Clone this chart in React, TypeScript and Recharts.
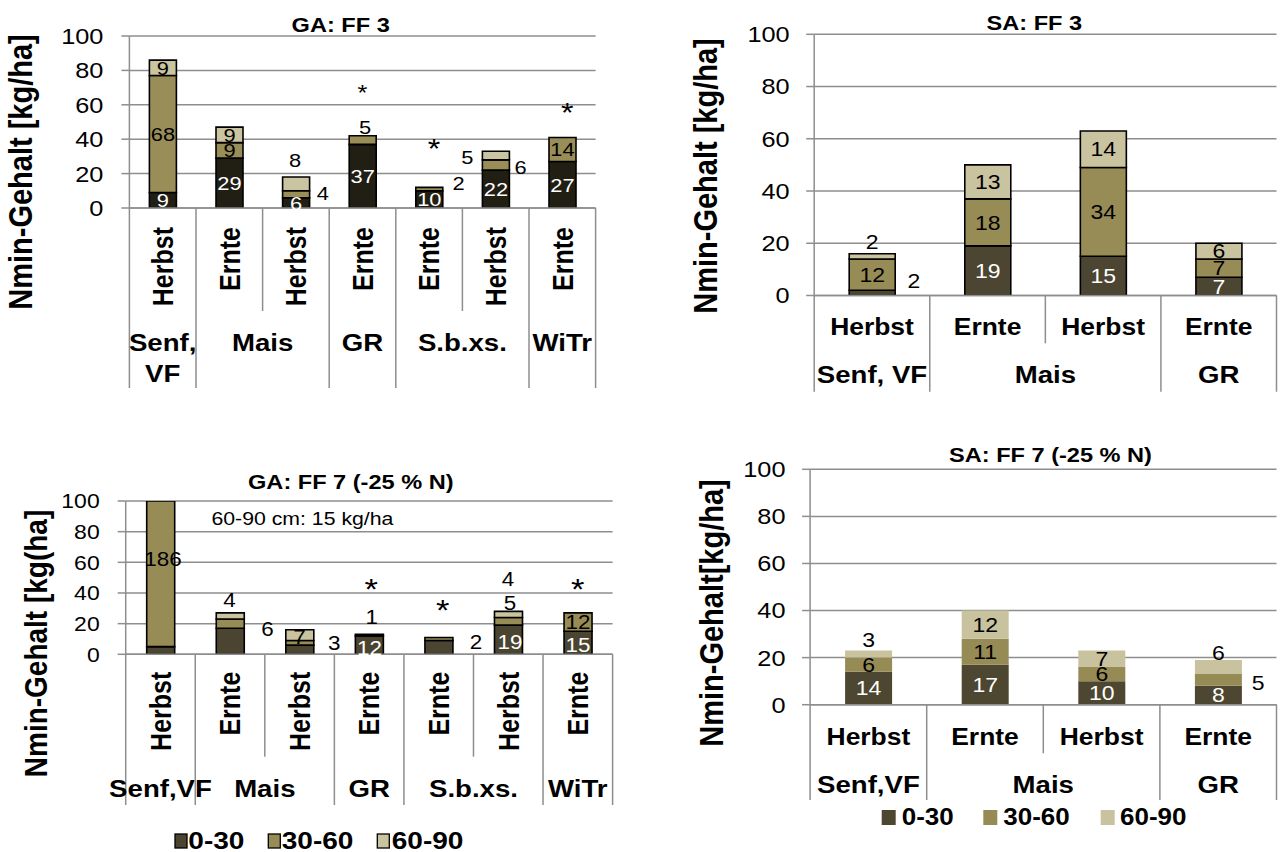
import React from 'react';
import {
  ComposedChart,
  Bar,
  Scatter,
  XAxis,
  YAxis,
  CartesianGrid,
  LabelList,
  Legend,
  Customized,
} from 'recharts';

const FONT = '"Liberation Sans", Arial, Helvetica, sans-serif';
const GRID = '#8e8e8e';
const TEXT_SX = 1.15;

// soil depth layers (cm) and value axis
const depthLayers = ['0-30', '30-60', '60-90'];
const valueTicks = [0, 20, 40, 60, 80, 100];

// GA: FF 3
const gaFf3Stages = ['Herbst', 'Ernte', 'Herbst', 'Ernte', 'Ernte', 'Herbst', 'Ernte'];
const gaFf3Crops = [['Senf,', 'VF'], ['Mais'], ['GR'], ['S.b.xs.'], ['WiTr']];
const gaFf3CropSpans = [1, 2, 1, 2, 1];
const gaFf3D0_30 = [9, 29, 6, 37, 10, 22, 27];
const gaFf3D30_60 = [68, 9, 4, 5, 2, 6, 14];
const gaFf3D60_90 = [9, 9, 8, 0, 0, 5, 0];
const gaFf3Signif = [null, null, null, 70, 38.5, null, 59];

// SA: FF 3
const saFf3Stages = ['Herbst', 'Ernte', 'Herbst', 'Ernte'];
const saFf3Crops = [['Senf, VF'], ['Mais'], ['GR']];
const saFf3CropSpans = [1, 2, 1];
const saFf3D0_30 = [2, 19, 15, 7];
const saFf3D30_60 = [12, 18, 34, 7];
const saFf3D60_90 = [2, 13, 14, 6];

// GA: FF 7 (-25 % N)
const gaFf7Stages = ['Herbst', 'Ernte', 'Herbst', 'Ernte', 'Ernte', 'Herbst', 'Ernte'];
const gaFf7Crops = [['Senf,VF'], ['Mais'], ['GR'], ['S.b.xs.'], ['WiTr']];
const gaFf7CropSpans = [1, 2, 1, 2, 1];
const gaFf7D0_30 = [5, 17, 6, 12, 9, 19, 15];
const gaFf7D30_60 = [186, 6, 3, 1, 2, 5, 12];
const gaFf7D60_90 = [15, 4, 7, 0, 0, 4, 0];
const gaFf7Signif = [null, null, null, 47.5, 33.5, null, 47.5];

// SA: FF 7 (-25 % N)
const saFf7Stages = ['Herbst', 'Ernte', 'Herbst', 'Ernte'];
const saFf7Crops = [['Senf,VF'], ['Mais'], ['GR']];
const saFf7CropSpans = [1, 2, 1];
const saFf7D0_30 = [14, 17, 10, 8];
const saFf7D30_60 = [6, 11, 6, 5];
const saFf7D60_90 = [3, 12, 7, 6];

interface PanelSpec {
  stages: string[];
  crops: string[][];
  cropSpans: number[];
  layers: number[][];
  signif?: (number | null)[];
  title: string;
  yTitle: string;
  note?: string;
}

interface LegendLayout {
  left: number;
  top: number;
  width: number;
  height: number;
  sqX: number[];
  sqY: number;
  sqW: number;
  sqH: number;
  textX: number[];
  baseline: number;
  font: number;
  sx: number;
  border: string | null;
}

interface Layout {
  left: number;
  top: number;
  width: number;
  height: number;
  plotLeft: number;
  plotRight: number;
  plotTop: number;
  plotBottom: number;
  barSize: number;
  colors: string[];
  outline: string | null;
  tickFont: number;
  tickGap: number;
  labelFont: number;
  rotated: boolean;
  stageFont: number;
  stageOffset: number;
  stageLen: number;
  groupLen: number;
  groupFont: number;
  groupBaselines: number[];
  titleX: number;
  titleY: number;
  titleSize: number;
  yTitleX: number;
  yTitleY: number;
  yTitleSize: number;
  noteX?: number;
  noteY?: number;
  noteSize?: number;
  shifts: Record<number, Record<number, [number, number]>>;
  hidden: Record<number, number[]>;
  starSizes?: number[];
  starDx?: number[];
  legend?: LegendLayout;
}

const panels: { spec: PanelSpec; lay: Layout }[] = [
  {
    spec: {
      stages: gaFf3Stages,
      crops: gaFf3Crops,
      cropSpans: gaFf3CropSpans,
      layers: [gaFf3D0_30, gaFf3D30_60, gaFf3D60_90],
      signif: gaFf3Signif,
      title: 'GA: FF 3',
      yTitle: 'Nmin-Gehalt [kg/ha]',
    },
    lay: {
      left: 0, top: 0, width: 640, height: 400,
      plotLeft: 129.4, plotRight: 595.6, plotTop: 36, plotBottom: 208,
      barSize: 27,
      colors: ['#211e13', '#998e57', '#cbc4a0'],
      outline: '#000',
      tickFont: 22, tickGap: 26,
      labelFont: 19,
      rotated: true,
      stageFont: 25, stageOffset: 19, stageLen: 103, groupLen: 180,
      groupFont: 24, groupBaselines: [143, 174],
      titleX: 340.7, titleY: 32, titleSize: 20.5,
      yTitleX: 23.7, yTitleY: 172, yTitleSize: 29,
      shifts: {
        1: { 2: [26.6, -1], 3: [2.4, -13.4], 4: [29.2, -5.7], 5: [24.7, 1.7] },
        2: { 2: [-1, -24], 5: [-28.7, 1.2] },
      },
      hidden: {},
      starSizes: [0, 0, 0, 22, 28, 0, 28],
      starDx: [0, 0, 0, 0, 5, 0, 5],
    },
  },
  {
    spec: {
      stages: saFf3Stages,
      crops: saFf3Crops,
      cropSpans: saFf3CropSpans,
      layers: [saFf3D0_30, saFf3D30_60, saFf3D60_90],
      title: 'SA: FF 3',
      yTitle: 'Nmin-Gehalt [kg/ha]',
    },
    lay: {
      left: 640, top: 0, width: 642, height: 400,
      plotLeft: 174.2, plotRight: 636.5, plotTop: 34.3, plotBottom: 295.5,
      barSize: 46,
      colors: ['#4c4531', '#978c55', '#cac3a0'],
      outline: '#000',
      tickFont: 22, tickGap: 24.6,
      labelFont: 20,
      rotated: false,
      stageFont: 23, stageOffset: 39.5, stageLen: 47.8, groupLen: 96.2,
      groupFont: 24, groupBaselines: [87.2],
      titleX: 394.3, titleY: 30, titleSize: 20.5,
      yTitleX: 68.4, yTitleY: 176, yTitleSize: 29,
      shifts: {
        0: { 0: [41.8, -11.7] },
        2: { 0: [0, -15] },
      },
      hidden: {},
    },
  },
  {
    spec: {
      stages: gaFf7Stages,
      crops: gaFf7Crops,
      cropSpans: gaFf7CropSpans,
      layers: [gaFf7D0_30, gaFf7D30_60, gaFf7D60_90],
      signif: gaFf7Signif,
      title: 'GA: FF 7 (-25 % N)',
      yTitle: 'Nmin-Gehalt [kg(ha]',
      note: '60-90 cm: 15 kg/ha',
    },
    lay: {
      left: 0, top: 420, width: 640, height: 432,
      plotLeft: 125.7, plotRight: 612.6, plotTop: 81, plotBottom: 234.3,
      barSize: 28,
      colors: ['#4a4430', '#978c55', '#cac3a0'],
      outline: '#000',
      tickFont: 20, tickGap: 26,
      labelFont: 19.5,
      rotated: true,
      stageFont: 25, stageOffset: 17.4, stageLen: 102.4, groupLen: 150.7,
      groupFont: 24, groupBaselines: [142.4],
      titleX: 350.8, titleY: 69.3, titleSize: 20.5,
      yTitleX: 38.3, yTitleY: 223.5, yTitleSize: 28,
      noteX: 302.4, noteY: 105, noteSize: 18.5,
      shifts: {
        0: { 3: [0, 3], 5: [1.4, 2], 6: [0, 2] },
        1: { 0: [2.3, -14.6], 1: [37.2, 5.7], 2: [34.3, 0], 3: [2.4, -18.4], 4: [37.1, 2.7], 5: [1.4, -18.6] },
        2: { 1: [-0.8, -16], 2: [-0.4, 2], 5: [-0.6, -35] },
      },
      hidden: { 0: [0, 1, 2, 4], 2: [0] },
      starSizes: [30, 30, 30, 30, 30, 30, 30],
      starDx: [0, 0, 0, 2, 4, 0, 0],
      legend: {
        left: 170, top: 402, width: 310, height: 30,
        sqX: [5, 98.3, 207.3], sqY: 12, sqW: 12, sqH: 14,
        textX: [18.3, 111.7, 221.7], baseline: 26.7,
        font: 23, sx: 1.22, border: '#000',
      },
    },
  },
  {
    spec: {
      stages: saFf7Stages,
      crops: saFf7Crops,
      cropSpans: saFf7CropSpans,
      layers: [saFf7D0_30, saFf7D30_60, saFf7D60_90],
      title: 'SA: FF 7 (-25 % N)',
      yTitle: 'Nmin-Gehalt[kg/ha]',
    },
    lay: {
      left: 640, top: 420, width: 642, height: 432,
      plotLeft: 170.1, plotRight: 636.5, plotTop: 49.3, plotBottom: 284.7,
      barSize: 47,
      colors: ['#4d4631', '#968b55', '#c9c29e'],
      outline: null,
      tickFont: 22, tickGap: 24.6,
      labelFont: 20,
      rotated: false,
      stageFont: 23, stageOffset: 40.3, stageLen: 48.6, groupLen: 95.3,
      groupFont: 24, groupBaselines: [88.6],
      titleX: 410.5, titleY: 41.7, titleSize: 20.5,
      yTitleX: 74.6, yTitleY: 193, yTitleSize: 29,
      shifts: {
        1: { 3: [39.8, 2.4] },
        2: { 0: [0, -14.3], 3: [0, -14] },
      },
      hidden: {},
      legend: {
        left: 230, top: 380, width: 340, height: 30,
        sqX: [11.7, 113.3, 230.7], sqY: 10, sqW: 14, sqH: 15,
        textX: [31.7, 133.3, 250], baseline: 25,
        font: 23, sx: 1.13, border: null,
      },
    },
  },
];

// text drawn with a slight horizontal stretch
function SText(props: any) {
  const { x, y, size, bold, anchor = 'start', fill = '#000', rotate, sx = TEXT_SX, children } = props;
  const tf = `translate(${x},${y}) scale(${sx},1)${rotate ? ` rotate(${rotate})` : ''}`;
  return (
    <text
      transform={tf}
      x={0}
      y={0}
      fontFamily={FONT}
      fontSize={size}
      fontWeight={bold ? 700 : 400}
      textAnchor={anchor}
      fill={fill}
    >
      {children}
    </text>
  );
}

function Decor(props: any) {
  const { spec, lay } = props as { spec: PanelSpec; lay: Layout };
  return (
    <g>
      <SText x={lay.titleX} y={lay.titleY} size={lay.titleSize} bold anchor="middle">
        {spec.title}
      </SText>
      <SText
        x={lay.yTitleX + 0.26 * lay.yTitleSize * TEXT_SX}
        y={lay.yTitleY}
        size={lay.yTitleSize}
        bold
        anchor="middle"
        rotate={-90}
      >
        {spec.yTitle}
      </SText>
      {spec.note && (
        <SText x={lay.noteX} y={lay.noteY} size={lay.noteSize} anchor="middle">
          {spec.note}
        </SText>
      )}
    </g>
  );
}

function LegendBox({ lay }: { lay: Layout }) {
  const lg = lay.legend as LegendLayout;
  return (
    <svg width={lg.width} height={lg.height} style={{ display: 'block', overflow: 'visible' }}>
      {depthLayers.map((name, k) => (
        <g key={name}>
          <rect
            x={lg.sqX[k]}
            y={lg.sqY}
            width={lg.sqW}
            height={lg.sqH}
            fill={lay.colors[k]}
            stroke={lg.border ?? 'none'}
            strokeWidth={lg.border ? 1.3 : 0}
          />
          <SText x={lg.textX[k]} y={lg.baseline} size={lg.font} bold sx={lg.sx}>
            {name}
          </SText>
        </g>
      ))}
    </svg>
  );
}

function Panel({ spec, lay }: { spec: PanelSpec; lay: Layout }) {
  const rows = spec.stages.map((stage, i) => ({
    slot: `s${i}`,
    i,
    stage,
    d0: spec.layers[0][i],
    d1: spec.layers[1][i],
    d2: spec.layers[2][i],
    sig: spec.signif ? spec.signif[i] : null,
  }));
  const n = rows.length;
  const band = (lay.plotRight - lay.plotLeft) / n;
  const starts: number[] = [];
  let acc = 0;
  spec.cropSpans.forEach((s) => {
    starts.push(acc);
    acc += s;
  });

  const renderStageTick = (p: any) => {
    const raw = p?.payload?.value;
    const i = typeof raw === 'string' && raw.startsWith('s') ? parseInt(raw.slice(1), 10) : p.index;
    const cx: number = p.x;
    const yb = lay.plotBottom;
    const left = cx - band / 2;
    const g = starts.indexOf(i);
    const parts: React.ReactNode[] = [];
    parts.push(
      <line
        key="sep"
        x1={left}
        x2={left}
        y1={yb}
        y2={yb + (g >= 0 ? lay.groupLen : lay.stageLen)}
        stroke={GRID}
        strokeWidth={1.5}
      />,
    );
    if (i === n - 1) {
      parts.push(
        <line key="end" x1={left + band} x2={left + band} y1={yb} y2={yb + lay.groupLen} stroke={GRID} strokeWidth={1.5} />,
      );
    }
    if (lay.rotated) {
      parts.push(
        <SText
          key="st"
          x={cx + 0.358 * lay.stageFont * TEXT_SX}
          y={yb + lay.stageOffset}
          size={lay.stageFont}
          bold
          anchor="end"
          rotate={-90}
        >
          {spec.stages[i]}
        </SText>,
      );
    } else {
      parts.push(
        <SText key="st" x={cx} y={yb + lay.stageOffset} size={lay.stageFont} bold anchor="middle">
          {spec.stages[i]}
        </SText>,
      );
    }
    if (g >= 0) {
      const gx = cx + ((spec.cropSpans[g] - 1) * band) / 2;
      spec.crops[g].forEach((line, k) => {
        parts.push(
          <SText key={`g${k}`} x={gx} y={yb + lay.groupBaselines[k]} size={lay.groupFont} bold anchor="middle">
            {line}
          </SText>,
        );
      });
    }
    return <g>{parts}</g>;
  };

  const renderValueTick = (p: any) => (
    <SText x={lay.plotLeft - lay.tickGap} y={p.y + 0.36 * lay.tickFont} size={lay.tickFont} anchor="end">
      {p.payload.value}
    </SText>
  );

  // the label's value is the row index ("i"), so each text is looked up in its own series
  const makeLabel = (k: number) => (p: any) => {
    const idx = Number(p.value);
    if (!Number.isFinite(idx)) return null;
    const v = spec.layers[k][idx];
    if (!v) return null;
    if ((lay.hidden[k] || []).includes(idx)) return null;
    const vb = p.viewBox ?? p;
    const y0 = Math.min(vb.y, vb.y + vb.height);
    const y1 = Math.max(vb.y, vb.y + vb.height);
    const top = Math.max(y0, lay.plotTop);
    const bot = Math.min(y1, lay.plotBottom);
    const cx = vb.x + vb.width / 2;
    const cy = (top + bot) / 2;
    const [dx, dy] = (lay.shifts[k] || {})[idx] ?? [0, 0];
    const inside = Math.abs(dx) < 10 && Math.abs(dy) < 10;
    const fill = inside && k === 0 ? '#ffffff' : '#000000';
    return (
      <SText x={cx + dx} y={cy + dy + 0.36 * lay.labelFont} size={lay.labelFont} anchor="middle" fill={fill}>
        {v}
      </SText>
    );
  };

  const renderStar = (p: any) => {
    const row = p.payload;
    if (!row || row.sig == null || !lay.starSizes) return <g />;
    const fs = lay.starSizes[row.i];
    const dx = lay.starDx ? lay.starDx[row.i] : 0;
    return (
      <SText x={p.cx + dx} y={p.cy + 0.57 * fs} size={fs} anchor="middle">
        *
      </SText>
    );
  };

  return (
    <div style={{ position: 'absolute', left: lay.left, top: lay.top, width: lay.width, height: lay.height }}>
      <ComposedChart
        width={lay.width}
        height={lay.height}
        data={rows}
        margin={{ top: lay.plotTop, right: lay.width - lay.plotRight, bottom: 0, left: 0 }}
      >
        <CartesianGrid vertical={false} stroke={GRID} strokeWidth={1.5} />
        <XAxis
          dataKey="slot"
          type="category"
          height={lay.height - lay.plotBottom}
          interval={0}
          tickSize={0}
          tickMargin={0}
          tickLine={false}
          axisLine={{ stroke: GRID, strokeWidth: 1.5 }}
          tick={renderStageTick}
        />
        <YAxis
          type="number"
          domain={[0, 100]}
          ticks={valueTicks}
          allowDataOverflow
          width={lay.plotLeft}
          interval={0}
          tickSize={8}
          tickLine={{ stroke: GRID, strokeWidth: 1.5 }}
          axisLine={{ stroke: GRID, strokeWidth: 1.5 }}
          tick={renderValueTick}
        />
        {depthLayers.map((name, k) => (
          <Bar
            key={name}
            dataKey={`d${k}`}
            name={name}
            stackId="nmin"
            fill={lay.colors[k]}
            stroke={lay.outline ?? 'none'}
            strokeWidth={lay.outline ? 1.6 : 0}
            barSize={lay.barSize}
            isAnimationActive={false}
          >
            <LabelList dataKey="i" content={makeLabel(k)} />
          </Bar>
        ))}
        {spec.signif && (
          <Scatter dataKey="sig" legendType="none" isAnimationActive={false} shape={renderStar} />
        )}
        {lay.legend && (
          <Legend
            layout="horizontal"
            verticalAlign="middle"
            align="center"
            wrapperStyle={{
              position: 'absolute',
              left: lay.legend.left,
              top: lay.legend.top,
              width: lay.legend.width,
              height: lay.legend.height,
              margin: 0,
              padding: 0,
            }}
            content={() => <LegendBox lay={lay} />}
          />
        )}
        <Customized component={<Decor spec={spec} lay={lay} />} />
      </ComposedChart>
    </div>
  );
}

export default function App() {
  return (
    <div
      style={{
        position: 'absolute',
        left: 0,
        top: 0,
        width: 1282,
        height: 852,
        background: '#ffffff',
        overflow: 'hidden',
      }}
    >
      {panels.map((p, i) => (
        <Panel key={i} spec={p.spec} lay={p.lay} />
      ))}
    </div>
  );
}
